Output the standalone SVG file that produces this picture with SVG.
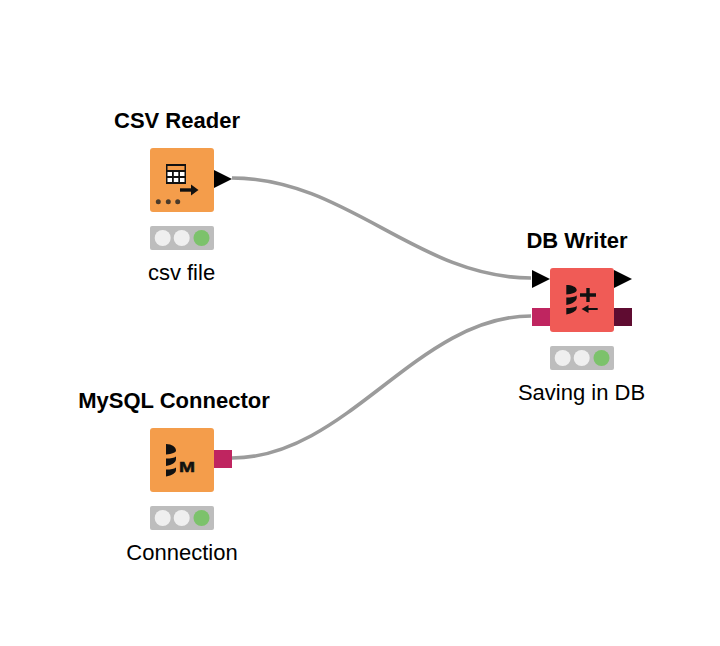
<svg xmlns="http://www.w3.org/2000/svg" width="720" height="646" viewBox="0 0 720 646">
<style>
text{font-family:"Liberation Sans",Arial,sans-serif;font-size:22px;fill:#000;text-anchor:middle}
.title{font-weight:bold}
.src{fill:#f49d4b}
.sink{fill:#f05b56}
.tl{fill:#bdbdbd}
.off{fill:#efefef}
.on{fill:#7cc26b}
.conn{fill:none;stroke:#9b9b9b;stroke-width:3.6}
.pd{fill:#000}
.db{fill:#bf2560}
.dbo{fill:#5f0c31}
.ink{fill:#111}
.line{stroke:#111;fill:none}
.dot{fill:#4a3a2a}
</style>
<defs>
<g id="lights">
<rect class="tl" width="64" height="24" rx="2"/>
<circle class="off" cx="12.700" cy="12" r="8"/>
<circle class="off" cx="31.700" cy="12" r="8"/>
<circle class="on" cx="51.500" cy="12" r="8"/>
</g>
</defs>
<g id="connectors">
<path class="conn" d="M232 178C347 178 417 278 531 278"/>
<path class="conn" d="M232 458C347 458 417 316 531 316"/>
</g>
<g id="csv-reader">
<text class="title" x="177" y="127.500">CSV Reader</text>
<rect class="src" x="150" y="148" width="64" height="64" rx="3"/>
<rect x="166" y="164" width="20" height="20" fill="#111"/>
<rect x="167.500" y="166" width="17" height="4" fill="#f49d4b"/>
<g fill="#fff">
<rect x="167.500" y="172" width="4.500" height="4"/><rect x="173.800" y="172" width="4.500" height="4"/><rect x="180" y="172" width="4.500" height="4"/>
<rect x="167.500" y="178" width="4.500" height="4"/><rect x="173.800" y="178" width="4.500" height="4"/><rect x="180" y="178" width="4.500" height="4"/>
</g>
<path class="line" stroke-width="3.400" d="M180 190H194"/>
<path class="ink" d="M191 184.500L198.500 190L191 195.500Z"/>
<circle class="dot" cx="158.300" cy="201.700" r="2.500"/>
<circle class="dot" cx="168.300" cy="201.700" r="2.500"/>
<circle class="dot" cx="177.700" cy="201.700" r="2.500"/>
<path class="pd" d="M214 170L232 179L214 188Z"/>
<use href="#lights" x="150" y="226"/>
<text x="181.500" y="280">csv file</text>
</g>
<g id="mysql-connector">
<text class="title" x="174" y="407.500">MySQL Connector</text>
<rect class="src" x="150" y="428" width="64" height="64" rx="3"/>
<path class="ink" d="M166 444C172 444 176 447 176 450.500C176 452.500 172 454 166 454.500ZM166 458.500C171 458.500 174 458 176 456.500V459C176 462.500 172 465 166 466ZM166 469.500C171 469.500 174 469 176 467.500V470C176 473 172 475.500 166 476.500Z"/>
<text x="187" y="472" textLength="16" lengthAdjust="spacingAndGlyphs" style="font-size:15px;font-weight:bold;fill:#111;stroke:#111;stroke-width:.5">M</text>
<rect class="db" x="214" y="450" width="18" height="18"/>
<use href="#lights" x="150" y="506"/>
<text x="182" y="560">Connection</text>
</g>
<g id="db-writer">
<text class="title" x="577" y="247.500">DB Writer</text>
<rect class="sink" x="550" y="268" width="64" height="64" rx="3"/>
<path class="ink" d="M566.300 285C572 285 576.700 287 576.700 290C576.700 292.500 572 294 566.300 294.500ZM566.300 297.500C571 297.500 575 297 576.700 295.500V298C576.700 301 572 304 566.300 305ZM566.300 308C571 308 575 307.500 576.700 306V308C576.700 311 572 313.500 566.300 314.500Z"/>
<path class="line" stroke-width="3.400" d="M580 295H596M588 288V302"/>
<path class="line" stroke-width="2" d="M586 309H597.700"/>
<path class="ink" d="M588.500 305L581.500 309L588.500 313Z"/>
<path class="pd" d="M532 270L550 279L532 288Z"/>
<path class="pd" d="M614 270L632 279L614 288Z"/>
<rect class="db" x="532" y="308" width="18" height="18"/>
<rect class="dbo" x="614" y="308" width="18" height="18"/>
<use href="#lights" x="550" y="346"/>
<text x="581.500" y="400">Saving in DB</text>
</g>
</svg>
